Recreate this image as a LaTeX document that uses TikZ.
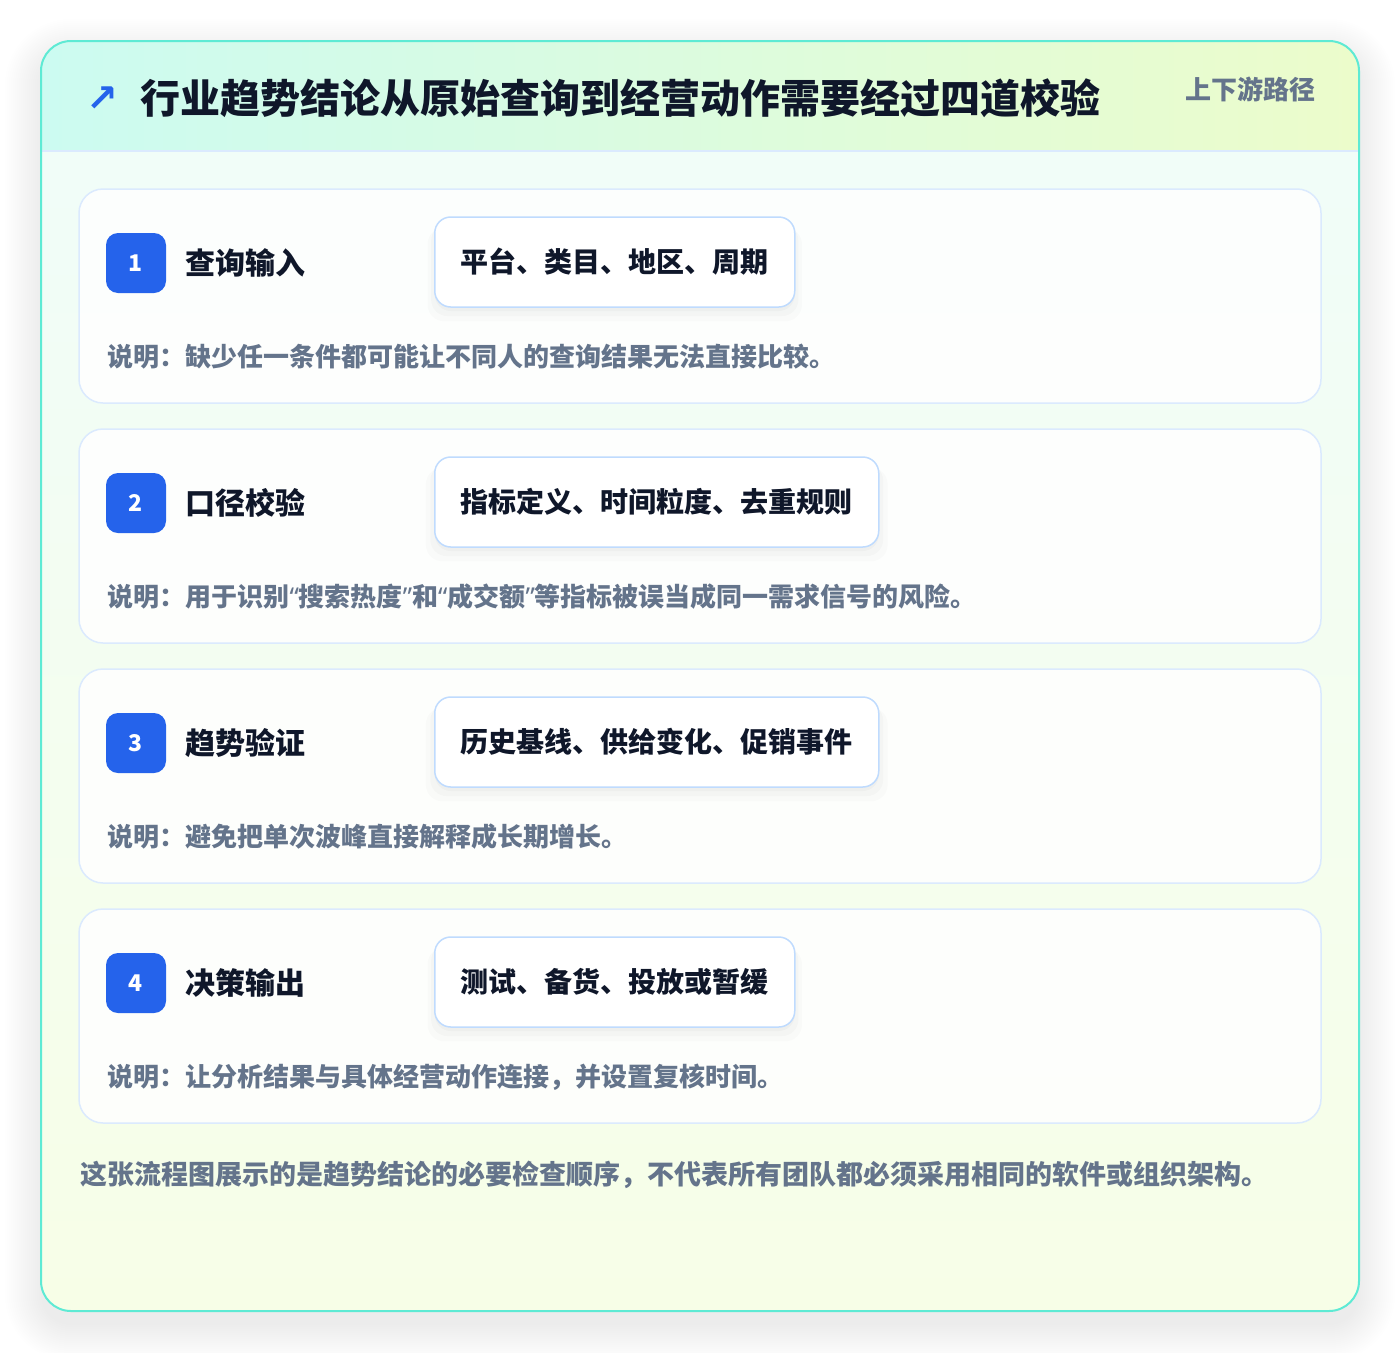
\documentclass[tikz,border=0pt]{standalone}
\usepackage{fontspec}
\setmainfont{Noto Sans CJK SC}
\newfontfamily\symfont{DejaVu Sans}
\newfontfamily\quotefont{Noto Sans}
\usetikzlibrary{positioning}
\usetikzlibrary{shadows}

\definecolor{panelline}{HTML}{5EEAD4}
\definecolor{headl}{HTML}{CCFBF1}
\definecolor{headr}{HTML}{ECFCCB}
\definecolor{bodyt}{HTML}{F0FDFA}
\definecolor{bodyb}{HTML}{F7FEE7}
\definecolor{cardline}{HTML}{DBEAFE}
\definecolor{chipline}{HTML}{BFDBFE}
\definecolor{accent}{HTML}{2563EB}
\definecolor{ink}{HTML}{0F172A}
\definecolor{muted}{HTML}{64748B}

\newcommand{\quoted}[1]{{\quotefont “}#1{\quotefont ”}}

\tikzset{
  card/.style={draw=cardline, line width=1.5pt, fill=white, fill opacity=0.85, rounded corners=24pt, minimum width=1242pt, minimum height=214pt, inner sep=0pt},
  badge/.style={fill=accent, rounded corners=12pt, minimum size=60pt, inner sep=0pt, text=white, font=\bfseries\fontsize{23}{23}\selectfont},
  steptitle/.style={font=\bfseries\fontsize{30}{36}\selectfont, text=ink},
  chip/.style={draw=chipline, line width=1.5pt, fill=white, rounded corners=16pt, minimum height=90pt, inner xsep=26pt, anchor=west, text=ink, font=\bfseries\fontsize{28}{34}\selectfont,
    drop shadow={shadow xshift=0pt, shadow yshift=-4pt, opacity=0.025, fill=black},
    drop shadow={shadow xshift=0pt, shadow yshift=-8pt, shadow scale=1.02, opacity=0.02, fill=black},
    drop shadow={shadow xshift=0pt, shadow yshift=-12pt, shadow scale=1.04, opacity=0.015, fill=black}},
  note/.style={font=\bfseries\fontsize{26}{30}\selectfont, text=muted, anchor=west}
}

\begin{document}
\begin{tikzpicture}[x=1pt,y=-1pt]
\useasboundingbox (0,0) rectangle (1400,1352);
\fill[white] (0,0) rectangle (1400,1352);
% soft shadow under the panel
\foreach \s in {0,2,...,36}{
  \pgfmathsetmacro\rr{30+\s}
  \fill[black,opacity=0.005,rounded corners=\rr pt] (41-\s,41-\s+14) rectangle (1359+\s,1311+\s+14);
}
% panel
\shade[top color=bodyt, bottom color=bodyb, rounded corners=30pt] (41,41) rectangle (1359,1311);
\begin{scope}
\clip[rounded corners=30pt] (41,41) rectangle (1359,1311);
\shade[left color=headl, right color=headr] (41,41) rectangle (1359,151);
\end{scope}
\draw[cardline, line width=1.5pt] (41,151) -- (1359,151);
\draw[panelline, line width=2pt, rounded corners=30pt] (41,41) rectangle (1359,1311);

% header
\node[font=\symfont\bfseries\fontsize{38}{38}\selectfont, text=accent] (icon) at (102,99) {↗};
\node[anchor=west, font=\bfseries\fontsize{40}{48}\selectfont, text=ink] (title) at (137,98) {行业趋势结论从原始查询到经营动作需要经过四道校验};
\node[anchor=east, font=\bfseries\fontsize{26}{30}\selectfont, text=muted] (route) at (1319,89) {上下游路径};

% step 1
\node[card] (card1) at (700,296) {};
\node[badge] (badge1) at (136,263) {1};
\node[steptitle, right=16pt of badge1] (name1) {查询输入};
\node[chip] (chip1) at (434,262) {平台、类目、地区、周期};
\node[note] (note1) at (104,357) {说明：缺少任一条件都可能让不同人的查询结果无法直接比较。};

% step 2
\node[card] (card2) at (700,536) {};
\node[badge] (badge2) at (136,503) {2};
\node[steptitle, right=16pt of badge2] (name2) {口径校验};
\node[chip] (chip2) at (434,502) {指标定义、时间粒度、去重规则};
\node[note] (note2) at (104,597) {说明：用于识别\quoted{搜索热度}和\quoted{成交额}等指标被误当成同一需求信号的风险。};

% step 3
\node[card] (card3) at (700,776) {};
\node[badge] (badge3) at (136,743) {3};
\node[steptitle, right=16pt of badge3] (name3) {趋势验证};
\node[chip] (chip3) at (434,742) {历史基线、供给变化、促销事件};
\node[note] (note3) at (104,837) {说明：避免把单次波峰直接解释成长期增长。};

% step 4
\node[card] (card4) at (700,1016) {};
\node[badge] (badge4) at (136,983) {4};
\node[steptitle, right=16pt of badge4] (name4) {决策输出};
\node[chip] (chip4) at (434,982) {测试、备货、投放或暂缓};
\node[note] (note4) at (104,1077) {说明：让分析结果与具体经营动作连接，并设置复核时间。};

% footer
\node[note, font=\bfseries\fontsize{27}{32}\selectfont] (footer) at (77,1175) {这张流程图展示的是趋势结论的必要检查顺序，不代表所有团队都必须采用相同的软件或组织架构。};
\end{tikzpicture}
\end{document}
